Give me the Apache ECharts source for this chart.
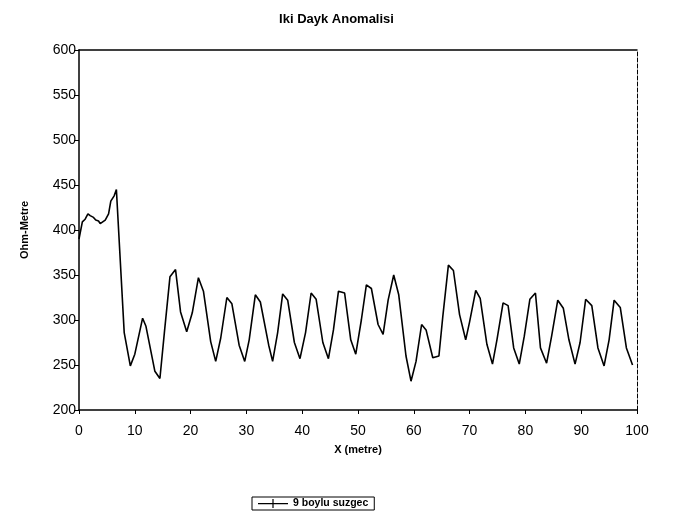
<!DOCTYPE html>
<html>
<head>
<meta charset="utf-8">
<script src="https://cdn.jsdelivr.net/npm/echarts@6/dist/echarts.min.js"></script>
<style>
html,body{margin:0;padding:0;background:#fff;}
#chart{width:673px;height:522px;}
</style>
</head>
<body>
<div id="chart"></div>
<script>
var titleText = 'Iki Dayk Anomalisi';
var seriesName = '9 boylu suzgec';
var xTicks = [0, 10, 20, 30, 40, 50, 60, 70, 80, 90, 100];
var yTicks = [200, 250, 300, 350, 400, 450, 500, 550, 600];

var xs = [0, 0.6, 1.1, 1.6, 2.0, 2.6, 3.0, 3.5, 3.8, 4.7, 5.3, 5.7, 6.3, 6.7, 8.1, 9.2, 10.0, 11.4, 12.0, 13.6,
  14.5, 15.3, 16.3, 17.3, 18.2, 19.3, 20.3, 21.4, 22.3, 23.6, 24.5, 25.4, 26.5, 27.4, 28.7, 29.7, 30.5, 31.6, 32.5, 34.0,
  34.7, 35.6, 36.5, 37.4, 38.6, 39.6, 40.6, 41.6, 42.5, 43.7, 44.7, 45.6, 46.5, 47.6, 48.7, 49.6, 50.6, 51.5, 52.4, 53.6,
  54.5, 55.4, 56.4, 57.3, 58.6, 59.5, 60.4, 61.4, 62.2, 63.4, 64.5, 65.2, 66.2, 67.1, 68.2, 69.3, 70.0, 71.1, 71.9, 73.1,
  74.1, 74.9, 76.0, 76.9, 77.9, 78.9, 79.8, 80.8, 81.8, 82.7, 83.8, 84.7, 85.8, 86.8, 87.8, 88.9, 89.8, 90.8, 91.9, 93.0,
  94.1, 95.0, 95.9, 97.0, 98.1, 99.2];
var ys = [390, 409, 412, 418, 416, 414, 411, 410, 407, 411, 418, 432, 438, 445, 286, 249, 262, 302, 293, 243,
  235, 286, 348, 356, 309, 287, 308, 347, 332, 276, 254, 280, 325, 318, 272, 254, 278, 328, 320, 272,
  254, 286, 329, 322, 275, 257, 286, 330, 323, 275, 257, 289, 332, 330, 278, 262, 300, 339, 335, 295,
  284, 322, 350, 328, 260, 232, 254, 295, 289, 258, 260, 304, 361, 355, 306, 278, 298, 333, 324, 273,
  251, 278, 319, 316, 269, 251, 282, 323, 330, 269, 252, 282, 322, 313, 278, 251, 275, 323, 316, 269,
  249, 278, 322, 314, 269, 250];

var pairs = xs.map(function (x, i) { return [x, ys[i]]; });
var font = 'Liberation Sans, Arial, sans-serif';

var chart = echarts.init(document.getElementById('chart'));
chart.setOption({
  animation: false,
  backgroundColor: '#fff',
  title: {
    text: titleText, left: 'center', top: 8,
    textStyle: {fontFamily: font, fontSize: 13, fontWeight: 'bold', color: '#000'}
  },
  legend: {
    data: [{name: seriesName, icon: 'path://M0,4 L30,4 L30,5.2 L0,5.2 Z M14.4,0 L15.6,0 L15.6,9 L14.4,9 Z'}],
    left: 252, top: 497,
    itemWidth: 30, itemHeight: 9, itemGap: 6,
    borderColor: '#000', borderWidth: 1, padding: [1, 6, 1, 6],
    textStyle: {fontFamily: font, fontSize: 10.5, fontWeight: 'bold', color: '#000'}
  },
  grid: {left: 79, right: 36, top: 50, bottom: 112, containLabel: false},
  xAxis: [{
    type: 'value', min: xTicks[0], max: xTicks[xTicks.length - 1], interval: 10,
    name: 'X (metre)', nameLocation: 'middle', nameGap: 34,
    nameTextStyle: {fontFamily: font, fontSize: 11, fontWeight: 'bold', color: '#000'},
    axisLine: {show: true, lineStyle: {color: '#000', width: 1.5}},
    axisTick: {show: true, length: 4, lineStyle: {color: '#000'}},
    axisLabel: {fontFamily: font, fontSize: 14, color: '#000', margin: 14},
    splitLine: {show: false}
  }, {
    type: 'value', position: 'top', min: 0, max: 100, interval: 10,
    axisLine: {show: true, onZero: false, lineStyle: {color: '#000', width: 1.5}},
    axisTick: {show: false}, axisLabel: {show: false}, splitLine: {show: false}
  }],
  yAxis: [{
    type: 'value', min: yTicks[0], max: yTicks[yTicks.length - 1], interval: 50,
    name: 'Ohm-Metre', nameLocation: 'middle', nameGap: 49,
    nameTextStyle: {fontFamily: font, fontSize: 11, fontWeight: 'bold', color: '#000'},
    axisLine: {show: true, lineStyle: {color: '#000', width: 1.5}},
    axisTick: {show: true, length: 5, lineStyle: {color: '#000'}},
    axisLabel: {fontFamily: font, fontSize: 14, color: '#000', margin: 3},
    splitLine: {show: false}
  }, {
    type: 'value', position: 'right', min: 200, max: 600, interval: 50,
    axisLine: {show: true, onZero: false, lineStyle: {color: '#000', width: 1, type: 'dashed'}},
    axisTick: {show: false}, axisLabel: {show: false}, splitLine: {show: false}
  }],
  series: [{
    name: seriesName, type: 'line', data: pairs,
    symbol: 'none', smooth: false,
    lineStyle: {color: '#000', width: 1.6},
    itemStyle: {color: '#000'}
  }]
});
</script>
</body>
</html>
